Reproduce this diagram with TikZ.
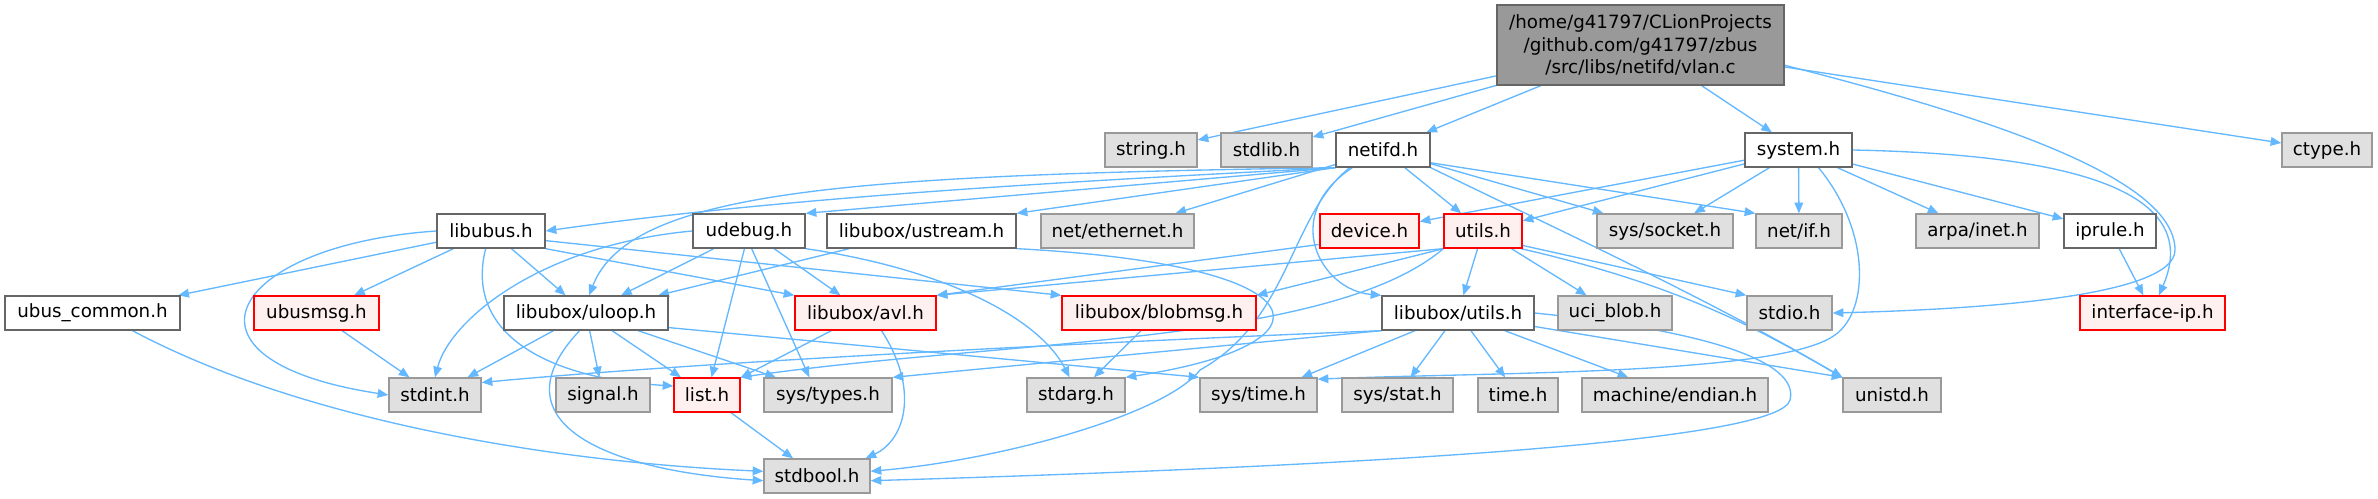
\documentclass[tikz,border=0pt]{standalone}
\usepackage{fontspec}
\setmainfont{DejaVu Sans}
\usetikzlibrary{arrows.meta,backgrounds}
\definecolor{edgec}{HTML}{63B8FF}
\definecolor{grayfill}{HTML}{E0E0E0}
\definecolor{graydraw}{HTML}{999999}
\definecolor{whitedraw}{HTML}{666666}
\definecolor{redfill}{HTML}{FFF0F0}
\definecolor{reddraw}{HTML}{FF0000}
\definecolor{mainfill}{HTML}{999999}
\begin{document}
\begin{tikzpicture}[x=0.75pt,y=-0.75pt,
 box/.style={draw, rectangle, inner sep=0pt, minimum height=25.5pt, line width=1pt, font=\fontsize{13.7}{17}\selectfont, align=center},
 wd/.style={minimum width=#1*0.75pt},
 sysh/.style={box, fill=grayfill, draw=graydraw},
 loc/.style={box, fill=white, draw=whitedraw},
 trunc/.style={box, fill=redfill, draw=reddraw},
 inc/.style={draw=edgec, line width=1pt, -{Triangle[length=8pt,width=6.5pt]}},
]
% nodes
\node[box, fill=mainfill, draw=whitedraw, wd=287, minimum height=60pt] (main) at (1640.5,45) {/home/g41797/CLionProjects\\/github.com/g41797/zbus\hspace*{19pt}\\/src/libs/netifd/vlan.c};
\node[sysh,wd=92] (string) at (1151,150) {string.h};
\node[sysh,wd=91] (stdlib) at (1266.5,150) {stdlib.h};
\node[loc,wd=94] (netifd) at (1383,150) {netifd.h};
\node[loc,wd=107] (system) at (1798.5,150) {system.h};
\node[sysh,wd=90] (ctype) at (2327,150) {ctype.h};
% row 2
\node[loc,wd=108] (libubus) at (491,231) {libubus.h};
\node[loc,wd=112] (udebug) at (749,231) {udebug.h};
\node[loc,wd=189] (ustream) at (921.5,231) {libubox/ustream.h};
\node[sysh,wd=153] (ethernet) at (1117.5,231) {net/ethernet.h};
\node[trunc,wd=99] (device) at (1369.5,231) {device.h};
\node[trunc,wd=78] (utils) at (1483,231) {utils.h};
\node[sysh,wd=136] (socket) at (1665,231) {sys/socket.h};
\node[sysh,wd=86] (netif) at (1799,231) {net/if.h};
\node[sysh,wd=123] (arpa) at (1977.5,231) {arpa/inet.h};
\node[loc,wd=92] (iprule) at (2110,231) {iprule.h};
% row 3
\node[loc,wd=175] (ubuscommon) at (92.5,313) {ubus\_common.h};
\node[trunc,wd=125] (ubusmsg) at (316.5,313) {ubusmsg.h};
\node[loc,wd=164] (uloop) at (586,313) {libubox/uloop.h};
\node[trunc,wd=141] (avl) at (865.5,313) {libubox/avl.h};
\node[trunc,wd=194] (blobmsg) at (1159,313) {libubox/blobmsg.h};
\node[loc,wd=152] (lutils) at (1458,313) {libubox/utils.h};
\node[sysh,wd=114] (uciblob) at (1615,313) {uci\_blob.h};
\node[sysh,wd=85] (stdio) at (1789.5,313) {stdio.h};
\node[trunc,wd=145] (ifip) at (2152.5,313) {interface-ip.h};
% row 4
\node[sysh,wd=92] (stdint) at (435,395) {stdint.h};
\node[sysh,wd=94] (signal) at (603,395) {signal.h};
\node[trunc,wd=66] (list) at (707,395) {list.h};
\node[sysh,wd=128] (systypes) at (828,395) {sys/types.h};
\node[sysh,wd=98] (stdarg) at (1076,395) {stdarg.h};
\node[sysh,wd=117] (systime) at (1258.5,395) {sys/time.h};
\node[sysh,wd=111] (sysstat) at (1397.5,395) {sys/stat.h};
\node[sysh,wd=80] (timeh) at (1518,395) {time.h};
\node[sysh,wd=186] (endian) at (1675,395) {machine/endian.h};
\node[sysh,wd=98] (unistd) at (1892,395) {unistd.h};
% row 5
\node[sysh,wd=106] (stdbool) at (817,476) {stdbool.h};

\begin{scope}[on background layer]
\path[use as bounding box, fill=white] (0,0) rectangle (2378,499);
% main
\draw[inc] (main) -- (string);
\draw[inc] (main) -- (stdlib);
\draw[inc] (main) -- (netifd);
\draw[inc] (main) -- (system);
\draw[inc] (main) -- (ctype);
\draw[inc] (main.-8) .. controls (2000,120) and (2175,180) .. (2175,250) .. controls (2175,300) and (1950,310) .. (stdio.east);
% netifd
\draw[inc] (netifd.south west) .. controls (1100,180) and (800,195) .. (libubus.east);
\draw[inc] (netifd.south west) -- (udebug.north east);
\draw[inc] (netifd.south west) .. controls (850,175) and (630,190) .. (uloop.80);
\draw[inc] (netifd.south west) -- (ustream.north east);
\draw[inc] (netifd) -- (ethernet);
\draw[inc] (netifd) -- (utils);
\draw[inc] ([xshift=-23pt]netifd.south) .. controls (1280,215) and (1320,290) .. (lutils.north west);
\draw[inc] ([xshift=-25pt]netifd.south) .. controls (1290,215) and (1290,320) .. (1200,370) .. controls (1165,415) and (1000,460) .. (stdbool.5);
\draw[inc] (netifd) -- (socket);
\draw[inc] (netifd.-15) -- (netif.north west);
\draw[inc] (netifd.south east) .. controls (1580,240) and (1710,300) .. (unistd.north west);
% system
\draw[inc] (system) -- (device);
\draw[inc] (system) -- (utils);
\draw[inc] (system) -- (socket);
\draw[inc] (system) -- (netif);
\draw[inc] (system) -- (arpa);
\draw[inc] (system) -- (iprule);
\draw[inc] (system.east) .. controls (2100,155) and (2200,200) .. (ifip.70);
\draw[inc] ([xshift=15pt]system.south) .. controls (1870,230) and (1870,310) .. (1835,335) .. controls (1780,375) and (1500,372) .. (systime.15);
\draw[inc] (iprule) -- (ifip);
% libubus
\draw[inc] (libubus) -- (ubuscommon);
\draw[inc] (libubus.west) .. controls (230,245) and (160,360) .. (stdint.west);
\draw[inc] (libubus) -- (ubusmsg);
\draw[inc] (libubus) -- (uloop);
\draw[inc] ([xshift=-4pt]libubus.south) .. controls (465,330) and (540,378) .. (list.165);
\draw[inc] (libubus.south east) -- (avl.north west);
\draw[inc] (libubus.-10) -- (blobmsg.north west);
% ubus_common, ubusmsg
\draw[inc] ([xshift=30pt]ubuscommon.south) .. controls (300,420) and (550,462) .. (stdbool.175);
\draw[inc] (ubusmsg) -- (stdint);
% uloop
\draw[inc] (uloop) -- (stdint);
\draw[inc] (uloop) -- (signal);
\draw[inc] (uloop) -- (list);
\draw[inc] (uloop) -- (systypes);
\draw[inc] (uloop.-110) .. controls (495,420) and (600,470) .. (stdbool.185);
\draw[inc] (uloop.-10) -- (systime.north west);
\draw[inc] (list) -- (stdbool);
% udebug
\draw[inc] (udebug.west) .. controls (540,245) and (450,320) .. (stdint.north);
\draw[inc] (udebug) -- (uloop);
\draw[inc] (udebug) -- (list);
\draw[inc] ([xshift=2pt]udebug.south) -- ([xshift=-14pt]systypes.north);
\draw[inc] (udebug) -- (avl);
\draw[inc] (udebug.south east) .. controls (950,270) and (1040,320) .. (stdarg.110);
% ustream
\draw[inc] (ustream) -- (uloop);
\draw[inc] (ustream.south east) .. controls (1330,265) and (1340,345) .. (stdarg.north east);
% device, avl, blobmsg
\draw[inc] (device.195) -- (avl.north east);
\draw[inc] (avl) -- (list);
\draw[inc] ([xshift=12pt]avl.south) .. controls (920,390) and (905,440) .. (stdbool.20);
\draw[inc] (blobmsg) -- (stdarg);
% utils
\draw[inc] (utils) -- (lutils);
\draw[inc] (utils) -- (uciblob);
\draw[inc] (utils.-20) -- (stdio.north west);
\draw[inc] (utils.-25) .. controls (1680,285) and (1760,330) .. (unistd.north west);
\draw[inc] (utils.south west) -- (avl.north east);
\draw[inc] (utils.south west) -- (blobmsg.north east);
\draw[inc] (utils.south west) .. controls (1330,345) and (1000,340) .. (list.north east);
% libubox/utils
\draw[inc] (lutils.south west) .. controls (1100,342) and (700,362) .. (stdint.15);
\draw[inc] (lutils.south west) -- (systypes.north east);
\draw[inc] (lutils) -- (systime);
\draw[inc] (lutils) -- (sysstat);
\draw[inc] (lutils) -- (timeh);
\draw[inc] (lutils) -- (endian);
\draw[inc] (lutils.-10) -- (unistd.north west);
\draw[inc] (lutils.east) .. controls (1700,330) and (1800,360) .. (1790,400) .. controls (1780,440) and (1400,465) .. (stdbool.-5);
\end{scope}
\end{tikzpicture}
\end{document}
